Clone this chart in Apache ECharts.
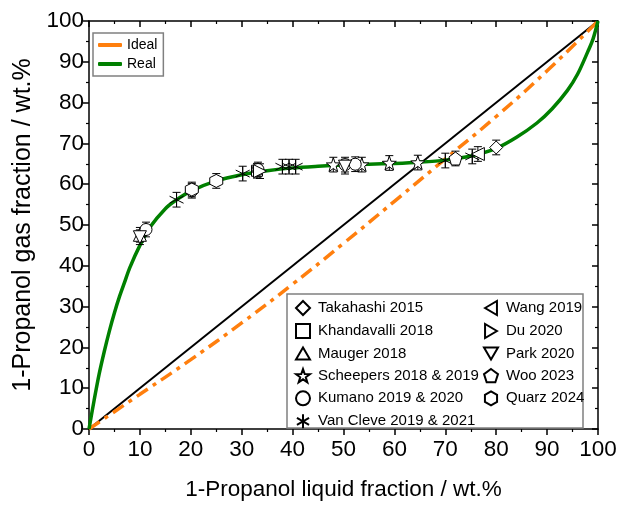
<!DOCTYPE html>
<html>
<head>
<meta charset="utf-8">
<script src="https://cdn.jsdelivr.net/npm/echarts@6/dist/echarts.min.js"></script>
<style>
  html, body { margin: 0; padding: 0; background: #fff; }
  #chart { width: 620px; height: 506px; }
</style>
</head>
<body>
<div id="chart"></div>
<script>
// Fitted (real) equilibrium curve: liquid vs gas fraction, wt.%
const realX = [0, 1, 2, 3, 4, 5, 6, 7, 8, 10, 12, 15, 17, 20, 25, 30, 35, 40, 45, 50, 55, 60, 65, 70, 75, 80, 84, 88, 91, 94, 96, 98, 99, 100];
const realY = [0, 7, 13.5, 19, 24, 28.5, 32.5, 36, 39.5, 45, 49.5, 54, 56, 58.3, 60.8, 62.3, 63.3, 64, 64.4, 64.7, 64.9, 65.1, 65.4, 65.9, 66.9, 68.8, 71.5, 75, 78.5, 83, 87, 92.5, 95.5, 100];

// Ideal (Raoult) curve
const idealX = [0, 10, 20, 30, 40, 50, 60, 70, 80, 90, 100];
const idealY = [0, 8.5, 17, 26, 35.5, 45.5, 55.8, 66.2, 76.6, 87.8, 100];

// Diagonal y = x
const diagX = [0, 100];

// Measured points [liquid, gas]
const takahashi = [[80, 69]];
const khandavalli = [[33, 63.3]];
const mauger = [[10, 47.6]];
const scheepers = [[48, 64.8], [53.6, 64.8], [59, 65.2], [64.6, 65.3]];
const kumano = [[11.2, 48.9], [20.2, 58.4], [33.2, 63.6], [50.3, 64.8], [52.3, 64.9]];
const vanCleve = [[17.2, 56.2], [30.2, 62.6], [38, 64.3], [39.3, 64.3], [40.6, 64.3], [70, 65.8], [75.3, 66.8]];
const wang = [[76.4, 67.4]];
const du = [[33.6, 63.2]];
const park = [[10, 47], [50.3, 64.3]];
const woo = [[72, 66.3]];
const quarz = [[25, 60.8], [20.2, 58.7]];
const errHalf = 1.8;

const seriesDefs = [
  { name: 'Takahashi 2015', data: takahashi, symbol: 'path://M0,-10 L10,0 L0,10 L-10,0 Z', size: 13 },
  { name: 'Khandavalli 2018', data: khandavalli, symbol: 'rect', size: 11 },
  { name: 'Mauger 2018', data: mauger, symbol: 'path://M0,-9 L10,8 L-10,8 Z', size: 13 },
  { name: 'Scheepers 2018 & 2019', data: scheepers, symbol: 'path://M0,-10 L2.35,-3.24 L9.51,-3.09 L3.8,1.24 L5.88,8.09 L0,4 L-5.88,8.09 L-3.8,1.24 L-9.51,-3.09 L-2.35,-3.24 Z', size: 14 },
  { name: 'Kumano 2019 & 2020', data: kumano, symbol: 'circle', size: 12 },
  { name: 'Van Cleve 2019 & 2021', data: vanCleve, symbol: 'path://M0,-10 L0,10 M-8.66,-5 L8.66,5 M-8.66,5 L8.66,-5', size: 14 },
  { name: 'Wang 2019', data: wang, symbol: 'path://M-9,0 L8,-10 L8,10 Z', size: 13 },
  { name: 'Du 2020', data: du, symbol: 'path://M9,0 L-8,-10 L-8,10 Z', size: 13 },
  { name: 'Park 2020', data: park, symbol: 'path://M0,9 L-10,-8 L10,-8 Z', size: 13 },
  { name: 'Woo 2023', data: woo, symbol: 'path://M0,-10 L9.51,-3.09 L5.88,8.09 L-5.88,8.09 L-9.51,-3.09 Z', size: 13 },
  { name: 'Quarz 2024', data: quarz, symbol: 'path://M0,-10 L8.66,-5 L8.66,5 L0,10 L-8.66,5 L-8.66,-5 Z', size: 13 }
];

const FONT = '"Liberation Sans", Arial, sans-serif';

function zip(xs, ys) { return xs.map((x, i) => [x, ys[i]]); }

const allPoints = [].concat(...seriesDefs.map(s => s.data));

const series = [
  {
    name: 'diag', type: 'line', data: zip(diagX, diagX), symbol: 'none',
    lineStyle: { color: '#000', width: 2 }, z: 2, silent: true
  },
  {
    name: 'Ideal', type: 'line', data: zip(idealX, idealY), symbol: 'none', smooth: true,
    color: '#ff7f0e',
    lineStyle: { color: '#ff7f0e', width: 3.5, type: [13, 6, 4, 6] }, z: 3
  },
  {
    name: 'Real', type: 'line', data: zip(realX, realY), symbol: 'none', smooth: 0.3,
    color: '#008000',
    lineStyle: { color: '#008000', width: 3.5 }, z: 4
  },
  {
    name: 'errors', type: 'custom', data: allPoints, z: 5, silent: true,
    renderItem: function (params, api) {
      const x = api.value(0), y = api.value(1);
      const top = api.coord([x, y + errHalf]);
      const bot = api.coord([x, y - errHalf]);
      const c = 4;
      const st = { stroke: '#000', lineWidth: 1 };
      return {
        type: 'group',
        children: [
          { type: 'line', shape: { x1: top[0], y1: top[1], x2: bot[0], y2: bot[1] }, style: st },
          { type: 'line', shape: { x1: top[0] - c, y1: top[1], x2: top[0] + c, y2: top[1] }, style: st },
          { type: 'line', shape: { x1: bot[0] - c, y1: bot[1], x2: bot[0] + c, y2: bot[1] }, style: st }
        ]
      };
    }
  }
].concat(seriesDefs.map(s => ({
  name: s.name, type: 'scatter', data: s.data, symbol: s.symbol, symbolSize: s.size,
  itemStyle: { color: '#fff', borderColor: '#000', borderWidth: 1, opacity: 1 },
  z: 6
})));

const legendText = { fontFamily: FONT, fontSize: 15, color: '#000', padding: [0, 0, 0, 3] };

const chart = echarts.init(document.getElementById('chart'), null, { renderer: 'canvas' });
chart.setOption({
  animation: false,
  backgroundColor: '#fff',
  grid: { left: 89, right: 22, top: 21, bottom: 75 },
  xAxis: [
    {
      type: 'value', min: 0, max: 100, interval: 10, position: 'bottom',
      name: '1-Propanol liquid fraction / wt.%', nameLocation: 'middle', nameGap: 49,
      nameTextStyle: { fontFamily: FONT, fontSize: 22.5, color: '#000' },
      axisLine: { onZero: false, lineStyle: { color: '#000', width: 1.5 } },
      axisTick: { inside: false, length: 6, lineStyle: { color: '#000', width: 1.5 } },
      minorTick: { show: true, splitNumber: 2, length: 3, lineStyle: { color: '#000', width: 1.2 } },
      axisLabel: { fontFamily: FONT, fontSize: 22.5, color: '#000', margin: 9 },
      splitLine: { show: false }
    },
    {
      type: 'value', min: 0, max: 100, interval: 10, position: 'top',
      axisLine: { onZero: false, lineStyle: { color: '#000', width: 1.5 } },
      axisTick: { inside: true, length: 6, lineStyle: { color: '#000', width: 1.5 } },
      minorTick: { show: true, splitNumber: 2, length: 3, lineStyle: { color: '#000', width: 1.2 } },
      axisLabel: { show: false }, splitLine: { show: false }
    }
  ],
  yAxis: [
    {
      type: 'value', min: 0, max: 100, interval: 10, position: 'left',
      name: '1-Propanol gas fraction / wt.%', nameLocation: 'middle', nameGap: 48,
      nameTextStyle: { fontFamily: FONT, fontSize: 25, color: '#000' },
      axisLine: { onZero: false, lineStyle: { color: '#000', width: 1.5 } },
      axisTick: { inside: false, length: 6, lineStyle: { color: '#000', width: 1.5 } },
      minorTick: { show: true, splitNumber: 2, length: 3, lineStyle: { color: '#000', width: 1.2 } },
      axisLabel: { fontFamily: FONT, fontSize: 22.5, color: '#000', margin: 5 },
      splitLine: { show: false }
    },
    {
      type: 'value', min: 0, max: 100, interval: 10, position: 'right',
      axisLine: { onZero: false, lineStyle: { color: '#000', width: 1.5 } },
      axisTick: { inside: true, length: 6, lineStyle: { color: '#000', width: 1.5 } },
      minorTick: { show: true, splitNumber: 2, length: 3, lineStyle: { color: '#000', width: 1.2 } },
      axisLabel: { show: false }, splitLine: { show: false }
    }
  ],
  graphic: [
    {
      type: 'rect', z: 3, shape: { x: 287, y: 294, width: 296, height: 134 },
      style: { fill: '#fff', stroke: '#808080', lineWidth: 1.5 }
    }
  ],
  legend: [
    {
      data: ['Ideal', 'Real'], orient: 'vertical', left: 93, top: 33,
      icon: 'roundRect', itemWidth: 24, itemHeight: 4, itemGap: 5,
      padding: [5, 6, 5, 5], borderColor: '#808080', borderWidth: 1.5, backgroundColor: '#fff',
      textStyle: { fontFamily: FONT, fontSize: 14, color: '#000' }
    },
    {
      data: seriesDefs.slice(0, 6).map(s => ({ name: s.name, icon: s.symbol })),
      orient: 'vertical', left: 295, top: 300, itemWidth: 14, itemHeight: 14, itemGap: 7,
      padding: 0, textStyle: legendText, z: 5
    },
    {
      data: seriesDefs.slice(6).map(s => ({ name: s.name, icon: s.symbol })),
      orient: 'vertical', left: 483, top: 300, itemWidth: 14, itemHeight: 14, itemGap: 7,
      padding: 0, textStyle: legendText, z: 5
    }
  ],
  series: series
});
</script>
</body>
</html>
